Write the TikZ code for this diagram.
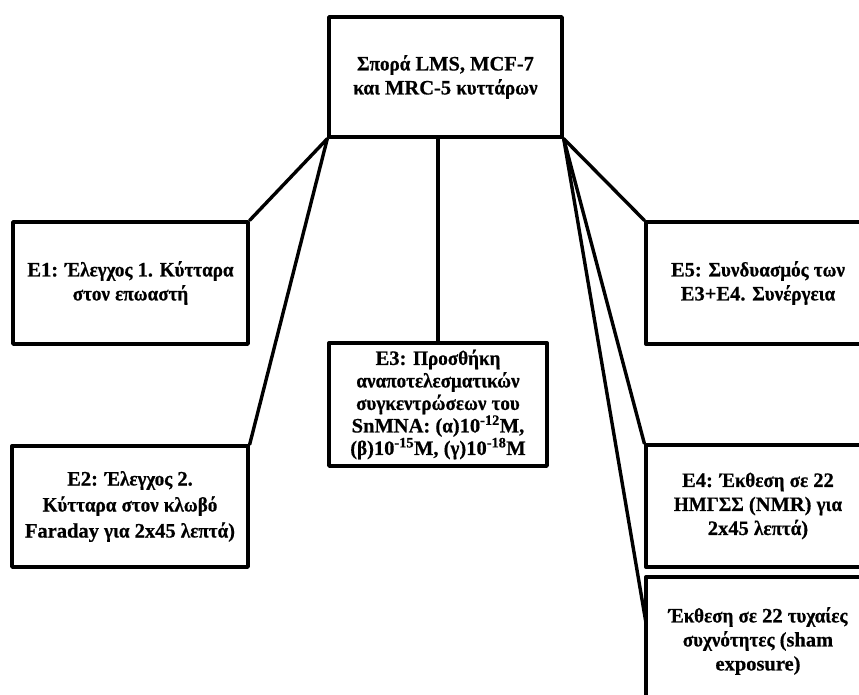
\documentclass[tikz,border=0pt]{standalone}
\usepackage{fontspec}
\setmainfont{Liberation Serif}[BoldFeatures={FakeBold=0.6}]
\newfontfamily\grkfont{Liberation Serif}[FakeStretch=0.93,BoldFeatures={FakeBold=0.6}]
\XeTeXinterchartokenstate=1
\newXeTeXintercharclass\GrkClass
\count255="0370
\loop\ifnum\count255<"0400 \XeTeXcharclass\count255=\GrkClass \advance\count255 by 1 \repeat
\XeTeXinterchartoks 0 \GrkClass = {\begingroup\grkfont}
\XeTeXinterchartoks 4095 \GrkClass = {\begingroup\grkfont}
\XeTeXinterchartoks \GrkClass 0 = {\endgroup}
\XeTeXinterchartoks \GrkClass 4095 = {\endgroup}
\begin{document}
\begin{tikzpicture}[x=1pt,y=-1pt,
  box/.style={draw=black,line width=3.4pt,line join=round,fill=none,inner sep=0pt,
    minimum width=#1,align=center,font=\fontsize{20.5}{24}\selectfont\bfseries},
  box/.default=235pt,
  conn/.style={draw=black,line width=3.4pt,line cap=round}]
\useasboundingbox (0,0) rectangle (859,694);
\clip (0,0) rectangle (859,694);
% top box
\node[box=233pt,minimum height=120pt] (top) at (445.5,77) {Σπορά LMS, MCF-7\\και MRC-5 κυττάρων};
% left
\node[box=235pt,minimum height=122pt] (e1) at (130.5,283) {E1: Έλεγχος 1. Κύτταρα\\στον επωαστή};
\node[box=236pt,minimum height=121pt,font=\fontsize{20.5}{26}\selectfont\bfseries] (e2) at (130,506.5) {E2: Έλεγχος 2.\\Κύτταρα στον κλωβό\\Faraday για 2x45 λεπτά)};
% middle
\node[box=218pt,minimum height=123pt,font=\fontsize{20.5}{22.5}\selectfont\bfseries] (e3) at (438,404.5) {E3: Προσθήκη\\αναποτελεσματικών\\συγκεντρώσεων του\\SnMNA: (α)10\textsuperscript{-12}M,\\(β)10\textsuperscript{-15}M, (γ)10\textsuperscript{-18}M};
% right
\node[box=224pt,minimum height=122pt] (e5) at (758,283) {E5: Συνδυασμός των\\E3+E4. Συνέργεια};
\node[box=224pt,minimum height=122pt] (e4) at (758,506) {E4: Έκθεση σε 22\\ΗΜΓΣΣ (NMR) για\\2x45 λεπτά)};
\node[box=224pt,minimum height=128pt] (sham) at (758,641) {Έκθεση σε 22 τυχαίες\\συχνότητες (sham\\exposure)};
\coordinate (shamin) at (646,623);
% connectors
\draw[conn] (top.south west) -- (e1.north east);
\draw[conn] (top.south west) -- (e2.north east);
\draw[conn] (top.south -| e3.north) -- (e3.north);
\draw[conn] (top.south east) -- (e5.north west);
\draw[conn] (top.south east) -- (e4.north west);
\draw[conn] (top.south east) -- (shamin);
\end{tikzpicture}
\end{document}
